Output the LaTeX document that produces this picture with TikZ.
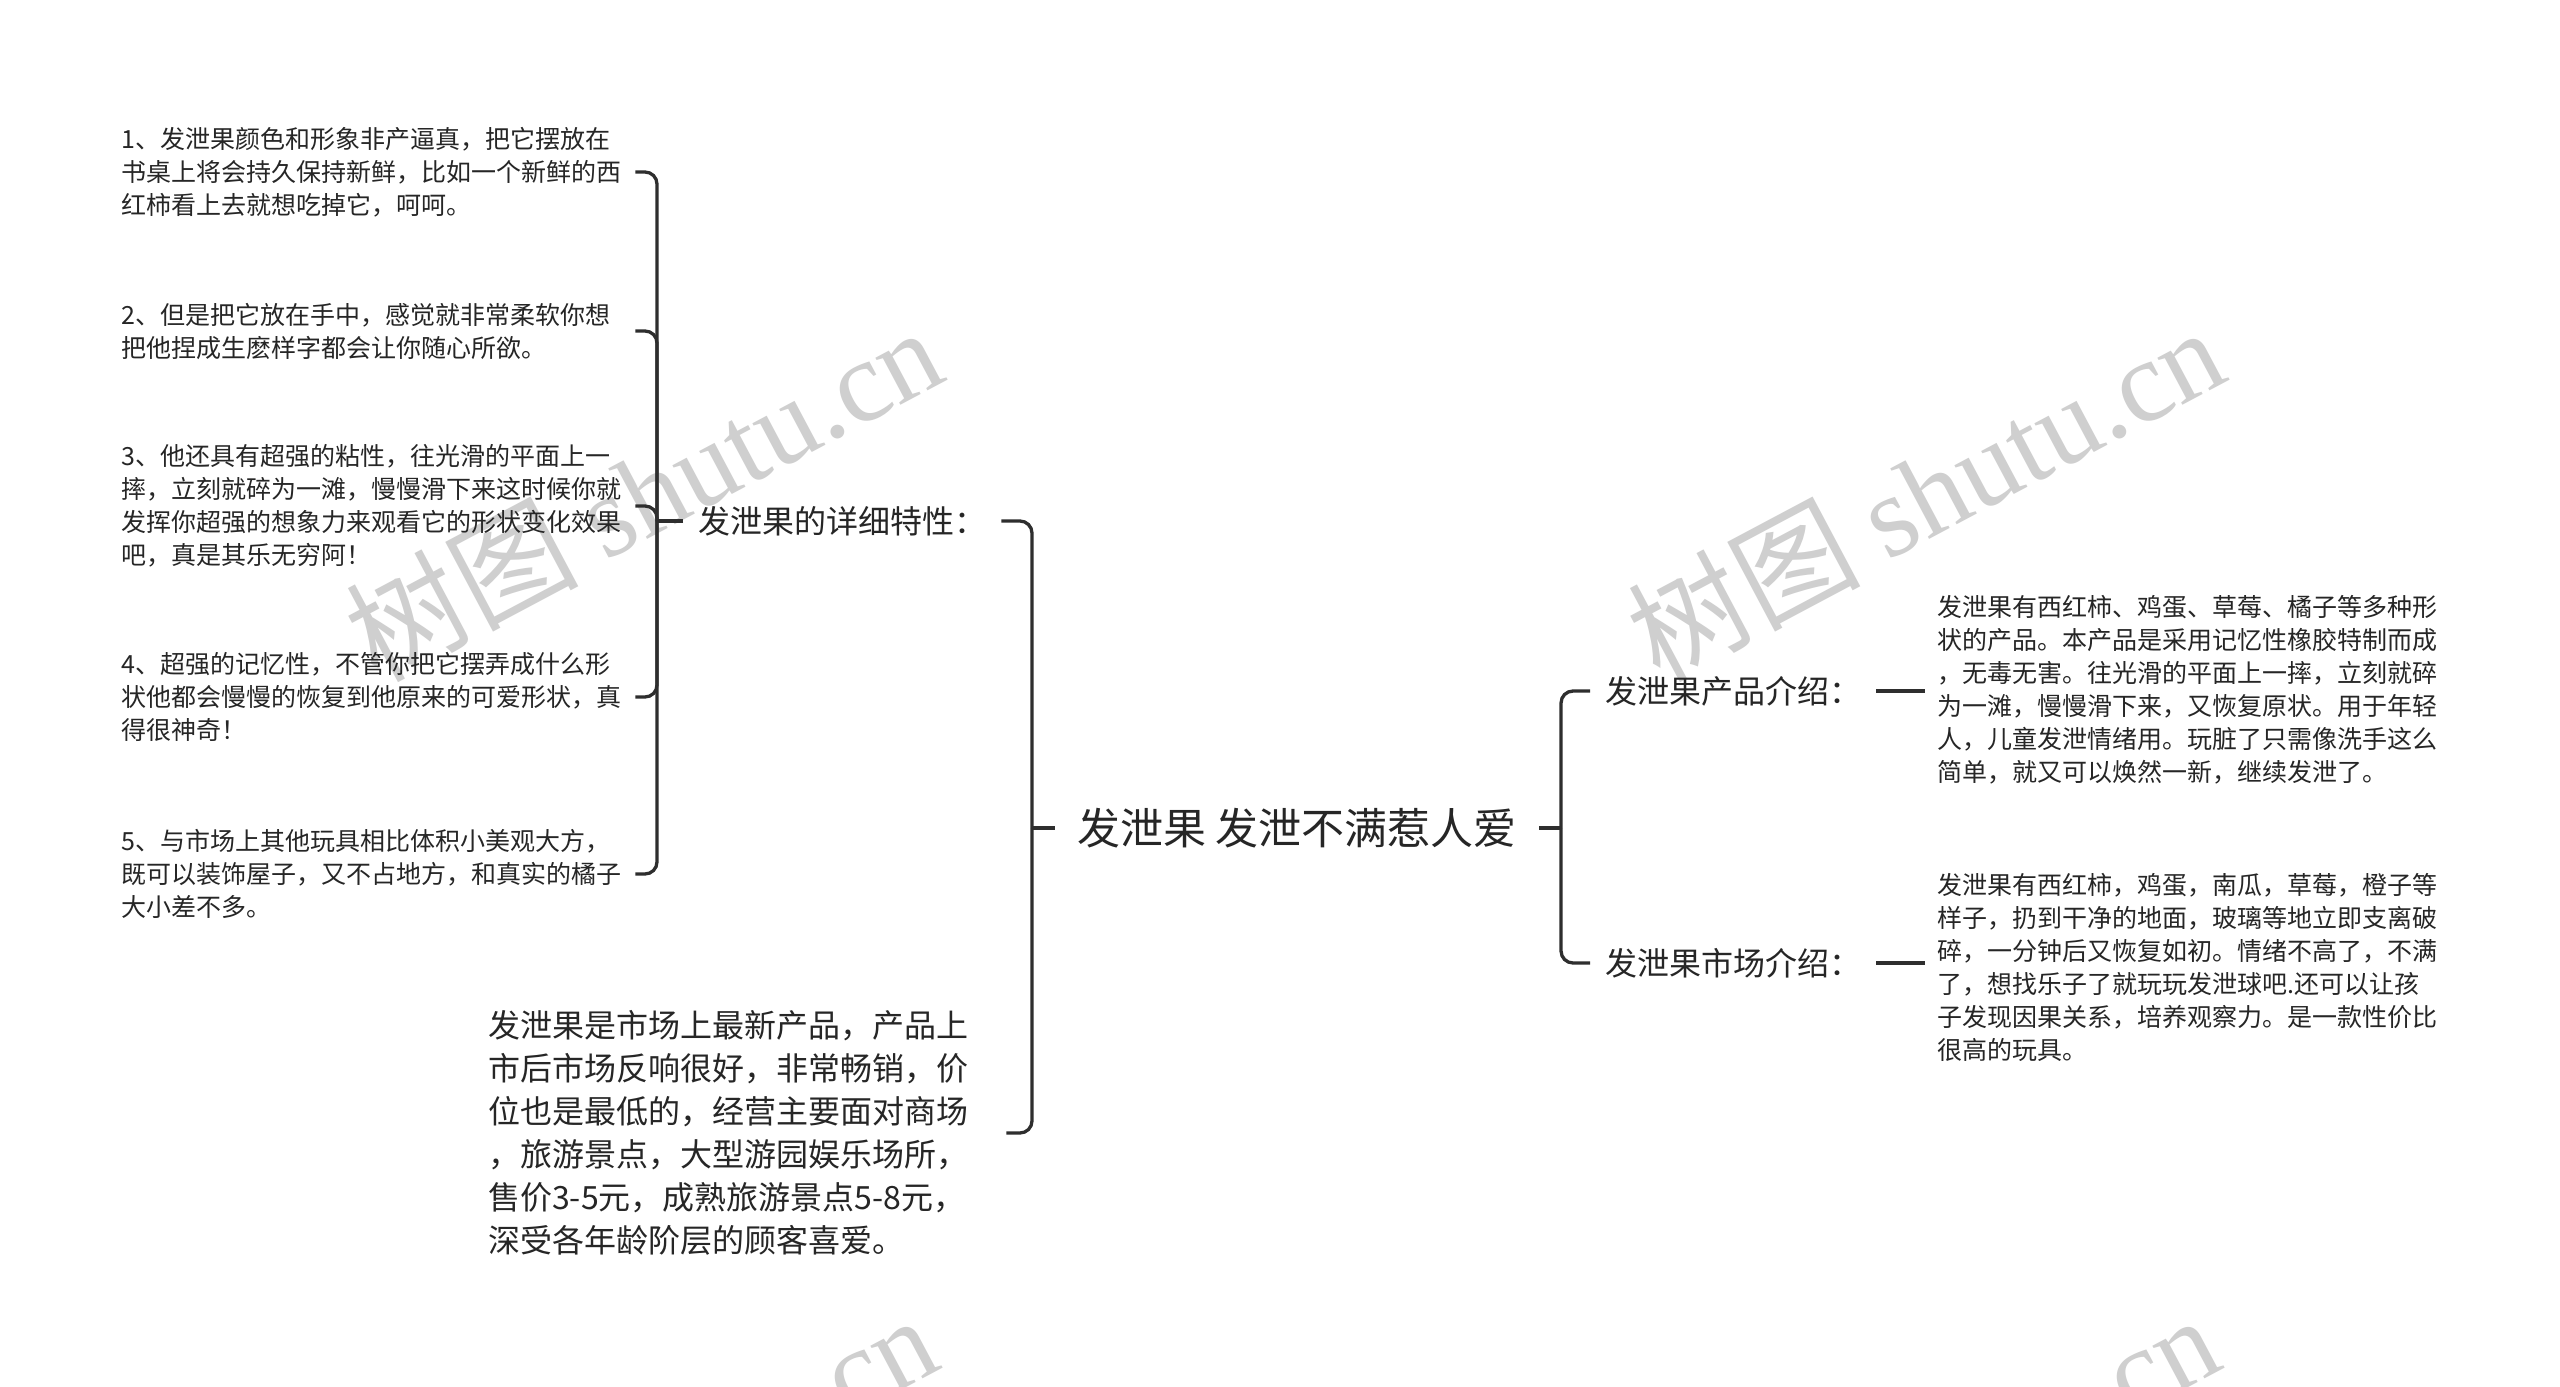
\documentclass[tikz,border=0pt]{standalone}
\usepackage{fontspec}
\setmainfont{Noto Sans CJK SC}
\newfontfamily\wmfont{Liberation Serif}
\colorlet{cline}{black!82}
\colorlet{ctext}{black!85}
\colorlet{cmark}{black!19}
\tikzset{
  topic/.style={font=\fontsize{43}{50}\selectfont, text=ctext, inner xsep=22pt, inner ysep=0pt},
  sect/.style={font=\fontsize{32}{40}\selectfont, text=ctext, inner xsep=15pt, inner ysep=0pt, anchor=west},
  leaf/.style={font=\fontsize{25}{33}\selectfont, text=ctext, align=left, text width=502pt,
               inner xsep=12pt, inner ysep=0pt, anchor=west},
  note/.style={font={\fontsize{32}{43}\selectfont\exhyphenpenalty=10000\relax}, text=ctext, align=left,
               text width=482pt, inner xsep=36pt, inner ysep=0pt, anchor=west},
  link/.style={draw=cline, line width=3.3pt, rounded corners=12pt},
  wmark/.style={font=\fontsize{116}{120}\selectfont, text=cmark, rotate=28, inner sep=0pt},
}
\begin{document}
\begin{tikzpicture}[x=1pt, y=-1pt]
\path[use as bounding box, fill=white] (0,0) rectangle (2560,1387);
\clip (0,0) rectangle (2560,1387);
\node[wmark] (wm1) at (643,492) {树图 {\wmfont shutu.cn}};
\node[wmark] (wm2) at (1925,492) {树图 {\wmfont shutu.cn}};
\node[wmark] (wm3) at (638,1480) {树图 {\wmfont shutu.cn}};
\node[wmark] (wm4) at (1920,1480) {树图 {\wmfont shutu.cn}};
\node[topic] (root) at (1297,828) {发泄果 发泄不满惹人爱};
\node[sect] (feat) at (683,521) {发泄果的详细特性：};
\node[sect] (prod) at (1590,691) {发泄果产品介绍：};
\node[sect] (mkt) at (1590,963) {发泄果市场介绍：};
\node[note] (note) at (452,1133)
  {发泄果是市场上最新产品，产品上\\市后市场反响很好，非常畅销，价\\位也是最低的，经营主要面对商场\\，旅游景点，大型游园娱乐场所，\\售价3-5元，成熟旅游景点5-8元，\\深受各年龄阶层的顾客喜爱。};
\node[leaf] (l1) at (109,172)
  {1、发泄果颜色和形象非产逼真，把它摆放在\\书桌上将会持久保持新鲜，比如一个新鲜的西\\红柿看上去就想吃掉它，呵呵。};
\node[leaf] (l2) at (109,331)
  {2、但是把它放在手中，感觉就非常柔软你想\\把他捏成生麽样字都会让你随心所欲。};
\node[leaf] (l3) at (109,506)
  {3、他还具有超强的粘性，往光滑的平面上一\\摔，立刻就碎为一滩，慢慢滑下来这时候你就\\发挥你超强的想象力来观看它的形状变化效果\\吧，真是其乐无穷阿！};
\node[leaf] (l4) at (109,697)
  {4、超强的记忆性，不管你把它摆弄成什么形\\状他都会慢慢的恢复到他原来的可爱形状，真\\得很神奇！};
\node[leaf] (l5) at (109,874)
  {5、与市场上其他玩具相比体积小美观大方，\\既可以装饰屋子，又不占地方，和真实的橘子\\大小差不多。};
\node[leaf] (prodtxt) at (1925,690)
  {发泄果有西红柿、鸡蛋、草莓、橘子等多种形\\状的产品。本产品是采用记忆性橡胶特制而成\\，无毒无害。往光滑的平面上一摔，立刻就碎\\为一滩，慢慢滑下来，又恢复原状。用于年轻\\人，儿童发泄情绪用。玩脏了只需像洗手这么\\简单，就又可以焕然一新，继续发泄了。};
\node[leaf] (mkttxt) at (1925,967)
  {发泄果有西红柿，鸡蛋，南瓜，草莓，橙子等\\样子，扔到干净的地面，玻璃等地立即支离破\\碎，一分钟后又恢复如初。情绪不高了，不满\\了，想找乐子了就玩玩发泄球吧.还可以让孩\\子发现因果关系，培养观察力。是一款性价比\\很高的玩具。};
\draw[link] (root.west) -- ++(-23,0) coordinate (rootl);
\draw[link] (root.east) -- ++(22,0) coordinate (rootr);
\foreach \n in {feat,note} \draw[link] (rootl) |- (\n.east);
\foreach \n in {prod,mkt} \draw[link] (rootr) |- (\n.west);
\draw[link] (feat.west) -- ++(-26,0) coordinate (featl);
\foreach \n in {l1,l2,l3,l4,l5} \draw[link] (featl) |- (\n.east);
\draw[link] (prod.east) -- (prod.east -| prodtxt.west);
\draw[link] (mkt.east) -- (mkt.east -| mkttxt.west);
\end{tikzpicture}
\end{document}
